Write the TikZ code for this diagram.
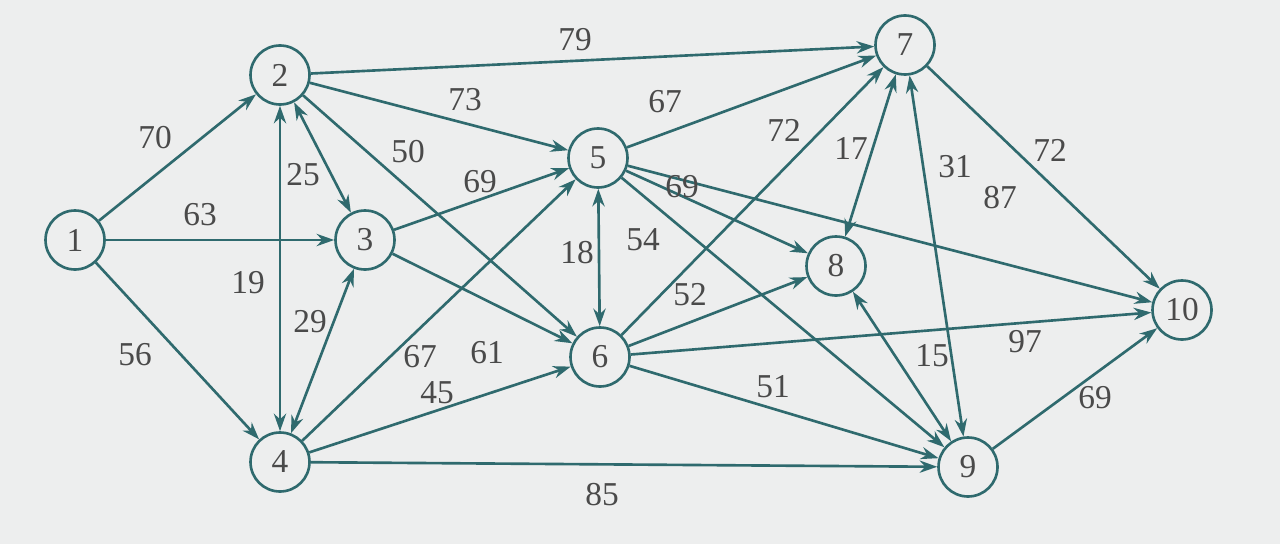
\documentclass[tikz,border=0pt]{standalone}
\usepackage{fontspec}
\setmainfont{Liberation Serif}
\usetikzlibrary{arrows.meta}
\definecolor{teal1}{HTML}{2F6A6E}
\definecolor{bg}{HTML}{EDEEEE}
\definecolor{txt}{HTML}{4A4A4A}
\begin{document}
\begin{tikzpicture}[x=0.02cm,y=-0.02cm,
  vert/.style={circle,draw=teal1,line width=1.5pt,minimum size=1.18cm,inner sep=0pt,font=\fontsize{19}{22}\selectfont,text=txt},
  edge/.style={teal1,line width=1.5pt,-{Stealth[length=10pt,width=7pt]}},
  bi/.style={teal1,line width=1.5pt,{Stealth[length=10pt,width=7pt]}-{Stealth[length=10pt,width=7pt]}},
  lab/.style={font=\fontsize{19}{22}\selectfont,text=txt}]
\fill[bg] (0,0) rectangle (1280,544);
\useasboundingbox (0,0) rectangle (1280,544);
\node[vert] (n1) at (75,240) {1};
\node[vert] (n2) at (280,75) {2};
\node[vert] (n3) at (365,240) {3};
\node[vert] (n4) at (280,462) {4};
\node[vert] (n5) at (598,158) {5};
\node[vert] (n6) at (600,357) {6};
\node[vert] (n7) at (905,45) {7};
\node[vert] (n8) at (836,266) {8};
\node[vert] (n9) at (968,467) {9};
\node[vert] (n10) at (1182,310) {10};
\draw[edge] (n1)--(n2); \draw[edge] (n1)--(n3); \draw[edge] (n1)--(n4);
\draw[edge] (n2)--(n7); \draw[edge] (n2)--(n5); \draw[edge] (n2)--(n6);
\draw[bi] (n2)--(n3); \draw[bi] (n2)--(n4); \draw[bi] (n3)--(n4);
\draw[edge] (n3)--(n5); \draw[edge] (n3)--(n6);
\draw[edge] (n4)--(n5); \draw[edge] (n4)--(n6); \draw[edge] (n4)--(n9);
\draw[edge] (n5)--(n7); \draw[bi] (n5)--(n6); \draw[edge] (n5)--(n8);
\draw[edge] (n5)--(n9); \draw[edge] (n5)--(n10);
\draw[edge] (n6)--(n7); \draw[edge] (n6)--(n8); \draw[edge] (n6)--(n10); \draw[edge] (n6)--(n9);
\draw[bi] (n7)--(n8); \draw[bi] (n7)--(n9); \draw[edge] (n7)--(n10);
\draw[bi] (n8)--(n9); \draw[edge] (n9)--(n10);
\node[lab] at (155,138) {70};
\node[lab] at (200,215) {63};
\node[lab] at (135,355) {56};
\node[lab] at (575,40) {79};
\node[lab] at (465,100) {73};
\node[lab] at (408,152) {50};
\node[lab] at (303,175) {25};
\node[lab] at (248,283) {19};
\node[lab] at (480,182) {69};
\node[lab] at (487,353) {61};
\node[lab] at (310,322) {29};
\node[lab] at (420,357) {67};
\node[lab] at (437,393) {45};
\node[lab] at (602,495) {85};
\node[lab] at (665,102) {67};
\node[lab] at (577,253) {18};
\node[lab] at (682,187) {69};
\node[lab] at (643,240) {54};
\node[lab] at (1000,198) {87};
\node[lab] at (784,130) {72};
\node[lab] at (690,295) {52};
\node[lab] at (1025,342) {97};
\node[lab] at (773,387) {51};
\node[lab] at (851,148) {17};
\node[lab] at (955,167) {31};
\node[lab] at (1050,150) {72};
\node[lab] at (932,356) {15};
\node[lab] at (1095,398) {69};
\end{tikzpicture}
\end{document}
